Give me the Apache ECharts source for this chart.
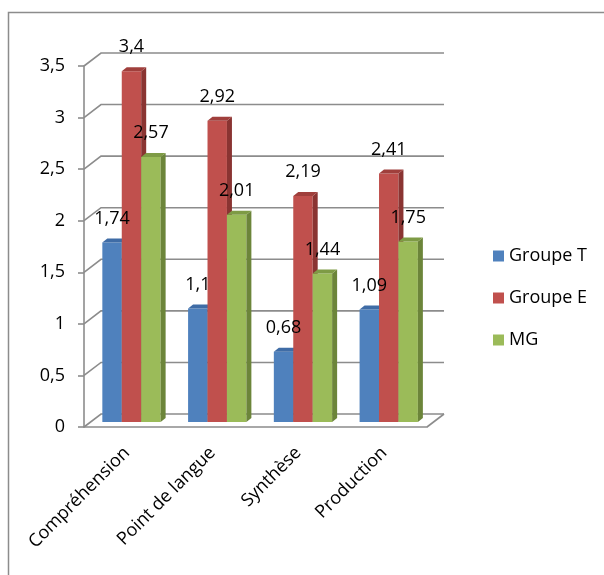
<!DOCTYPE html>
<html>
<head>
<meta charset="utf-8">
<script src="https://cdn.jsdelivr.net/npm/echarts@6/dist/echarts.min.js"></script>
<style>
  html, body { margin: 0; padding: 0; background: #fff; }
  #chart { width: 604px; height: 575px; }
</style>
</head>
<body>
<div id="chart"></div>
<script>
// Scores by activity for the two groups and the overall mean (MG)
const categories = ['Compréhension', 'Point de langue', 'Synthèse', 'Production'];
const groupeT = [1.74, 1.1, 0.68, 1.09];
const groupeE = [3.4, 2.92, 2.19, 2.41];
const moyenneG = [2.57, 2.01, 1.44, 1.75];
const yTicks = [0, 0.5, 1, 1.5, 2, 2.5, 3, 3.5];

const seriesDefs = [
  { name: 'Groupe T', data: groupeT, front: '#4F81BD', side: '#375C8C', top: '#3F6CA6' },
  { name: 'Groupe E', data: groupeE, front: '#C0504D', side: '#8A3432', top: '#A03F3C' },
  { name: 'MG',       data: moyenneG, front: '#9BBB59', side: '#6C853A', top: '#7E9B45' }
];

const FONT = '"Open Sans", "Noto Sans", sans-serif';
const WALL_DX = 17, WALL_DY = -13;     // offset of the back wall
const BAR_DY = -5;                     // bars stand a little behind the front plane
const SIDE_DX = 5, SIDE_DY = -4;       // bar depth
const fmt = v => String(v).replace('.', ',');

// front face of bar idx in the category that holds the point (cat, val)
function barBox(api, idx, cat, val) {
  const catW = api.size([1, 0])[0];
  const top = api.coord([cat, val]);
  const base = api.coord([cat, 0]);
  const barW = catW * 0.2266;
  const x0 = top[0] - catW * 0.2862 + idx * barW;
  return { x0: x0, x1: x0 + barW, yT: top[1] + BAR_DY, yB: base[1] + BAR_DY };
}

function barRenderer(idx, def) {
  return function (params, api) {
    const b = barBox(api, idx, api.value(0), api.value(1));
    return {
      type: 'group',
      children: [
        { type: 'rect', shape: { x: b.x0, y: b.yT, width: b.x1 - b.x0, height: b.yB - b.yT },
          style: { fill: def.front } },
        { type: 'polygon', shape: { points: [[b.x1, b.yB], [b.x1, b.yT], [b.x1 + SIDE_DX, b.yT + SIDE_DY], [b.x1 + SIDE_DX, b.yB + SIDE_DY]] },
          style: { fill: def.side } },
        { type: 'polygon', shape: { points: [[b.x0, b.yT], [b.x1, b.yT], [b.x1 + SIDE_DX, b.yT + SIDE_DY], [b.x0 + SIDE_DX, b.yT + SIDE_DY]] },
          style: { fill: def.top } }
      ]
    };
  };
}

function labelRenderer(idx) {
  return function (params, api) {
    const val = api.value(1);
    const b = barBox(api, idx, api.value(0), val);
    return {
      type: 'text', x: (b.x0 + b.x1) / 2, y: b.yT - 24,
      style: { text: fmt(val), fill: '#000', font: '18px ' + FONT, align: 'center', verticalAlign: 'middle' }
    };
  };
}

function wallRenderer(params, api) {
  const v = api.value(1);
  const catW = api.size([1, 0])[0];
  const p = api.coord([0, v]);
  const left = p[0] - catW / 2;
  const right = api.coord([categories.length - 1, v])[0] + catW / 2;
  const stroke = { stroke: '#8c8c8c', lineWidth: 1.6, fill: null };
  const children = [
    { type: 'polyline', shape: { points: [[left, p[1]], [left + WALL_DX, p[1] + WALL_DY], [right + WALL_DX, p[1] + WALL_DY]] },
      style: stroke }
  ];
  if (v === 0) {
    children.push({ type: 'line', shape: { x1: right, y1: p[1], x2: right + WALL_DX, y2: p[1] + WALL_DY }, style: stroke });
  }
  return { type: 'group', children };
}

const chart = echarts.init(document.getElementById('chart'));
chart.setOption({
  backgroundColor: '#fff',
  animation: false,
  graphic: [{
    type: 'rect', z: -10,
    shape: { x: 8.5, y: 12.5, width: 700, height: 700 },
    style: { fill: null, stroke: '#8c8c8c', lineWidth: 1.5 }
  }],
  grid: { left: 84, right: 177, top: 66, bottom: 148 },
  legend: {
    orient: 'vertical', left: 493, top: 246, padding: 0,
    itemWidth: 11, itemHeight: 11, itemGap: 22, icon: 'rect',
    textStyle: { fontFamily: FONT, fontSize: 18, color: '#000', lineHeight: 20 },
    data: seriesDefs.map(d => d.name)
  },
  xAxis: {
    type: 'category', data: categories,
    axisLine: { lineStyle: { color: '#8c8c8c', width: 1.6 } },
    axisTick: { length: 5, lineStyle: { color: '#8c8c8c', width: 1.6 } },
    axisLabel: { rotate: 45, margin: 23, fontFamily: FONT, fontSize: 18, color: '#000' },
    splitLine: { show: false }
  },
  yAxis: {
    type: 'value', min: 0, max: 3.5, interval: 0.5,
    axisLine: { show: true, lineStyle: { color: '#8c8c8c', width: 1.6 } },
    axisTick: { show: true, length: 6, lineStyle: { color: '#8c8c8c', width: 1.6 } },
    axisLabel: { margin: 19, fontFamily: FONT, fontSize: 18, color: '#000', formatter: fmt },
    splitLine: { show: false }
  },
  series: [
    {
      type: 'custom', name: 'walls', silent: true, z: 1, clip: false,
      renderItem: wallRenderer,
      data: yTicks.map(v => [0, v])
    }
  ].concat(seriesDefs.map((d, i) => ({
    type: 'custom', name: d.name, z: 2 + i, clip: false,
    itemStyle: { color: d.front },
    renderItem: barRenderer(i, d),
    data: d.data.map((v, k) => [k, v])
  }))).concat(seriesDefs.map((d, i) => ({
    type: 'custom', name: d.name + ' labels', z: 10, clip: false, silent: true,
    renderItem: labelRenderer(i),
    data: d.data.map((v, k) => [k, v])
  })))
});
</script>
</body>
</html>
